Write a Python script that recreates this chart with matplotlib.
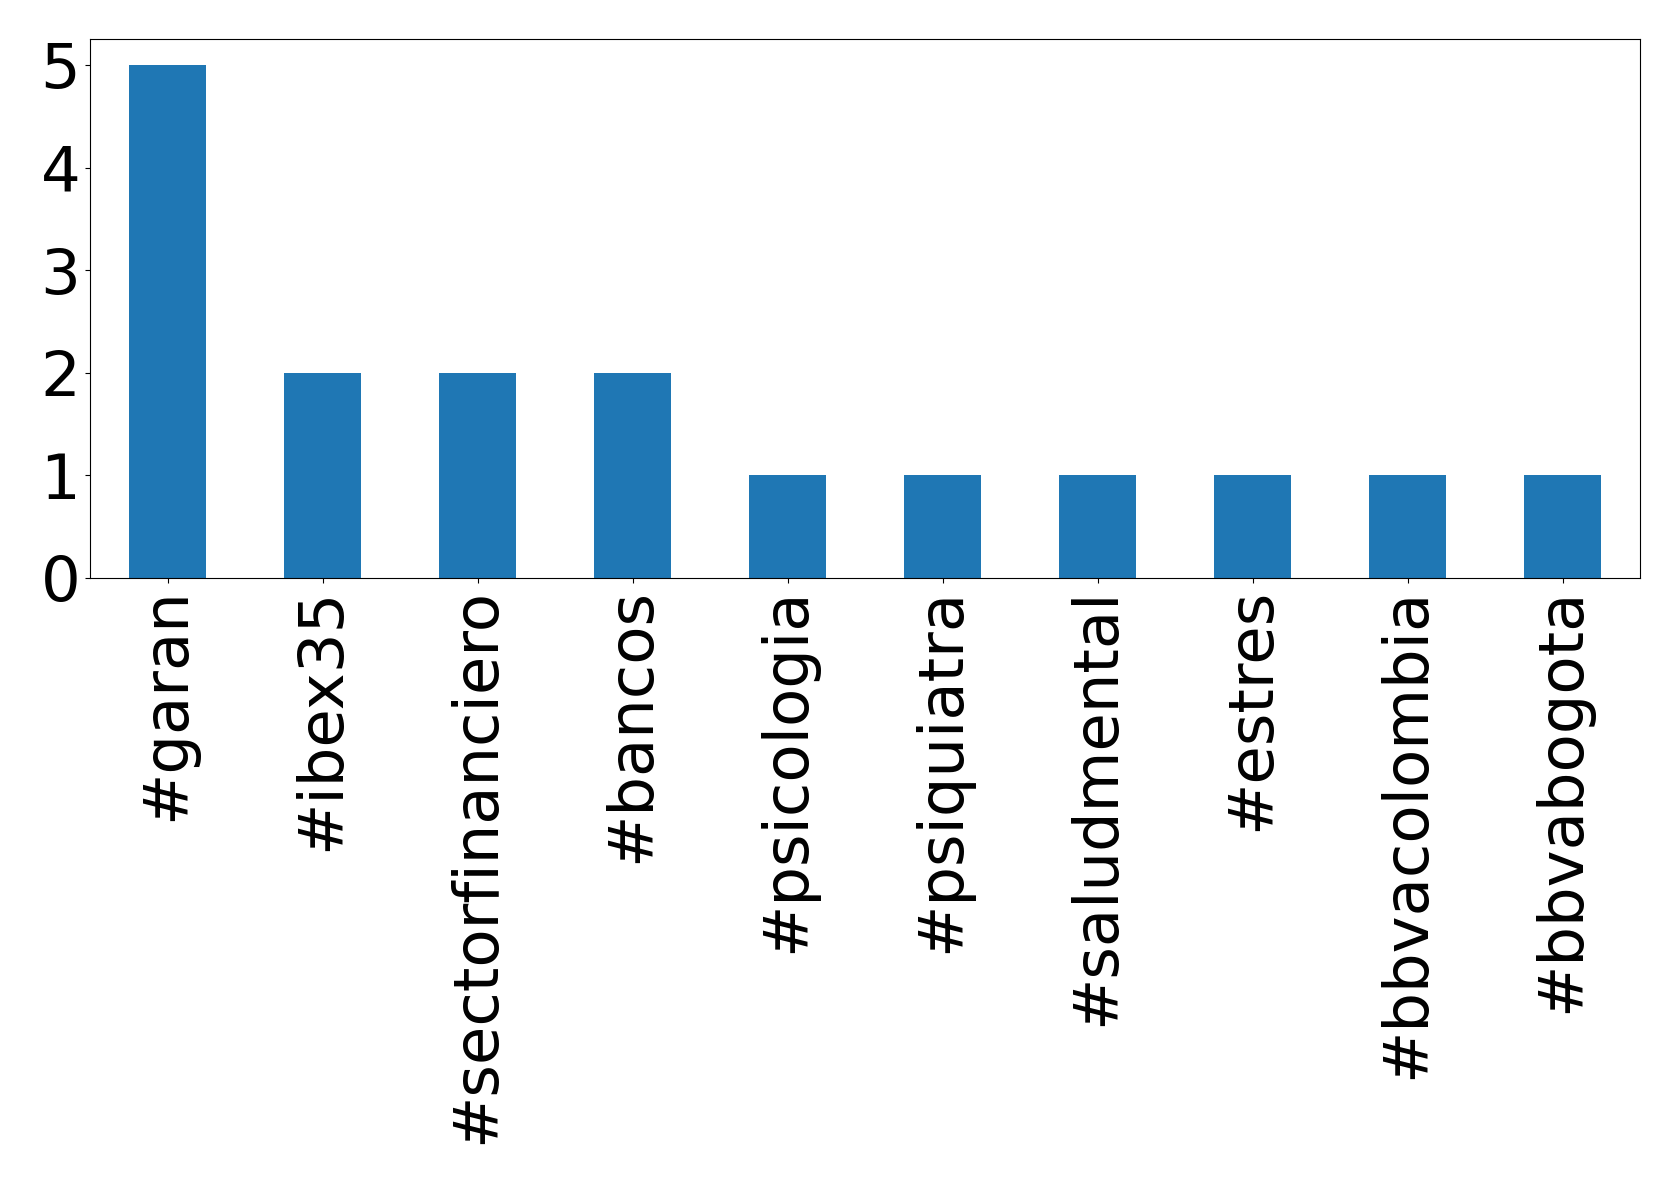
import numpy as np
import matplotlib.pyplot as plt

# hashtag counts
hashtags = ["#garan", "#ibex35", "#sectorfinanciero", "#bancos", "#psicologia",
            "#psiquiatra", "#saludmental", "#estres", "#bbvacolombia", "#bbvabogota"]
counts = [5, 2, 2, 2, 1, 1, 1, 1, 1, 1]

W, H = 1679, 1184
fig = plt.figure(figsize=(W / 100, H / 100), dpi=100)
ax = fig.add_axes([90 / W, 1 - 578 / H, (1640 - 90) / W, (578 - 39.3) / H])

x = np.arange(len(hashtags))
ax.bar(x, counts, width=0.5, color="#1f77b4")
ax.set_xlim(-0.5, len(hashtags) - 0.5)
ax.set_ylim(0, 5.25)
ax.set_xticks(x)
ax.set_xticklabels(hashtags, rotation=90, fontsize=45)
ax.set_yticks(range(0, 6))
ax.tick_params(axis="y", labelsize=45)

plt.savefig("out.png", dpi=100)
